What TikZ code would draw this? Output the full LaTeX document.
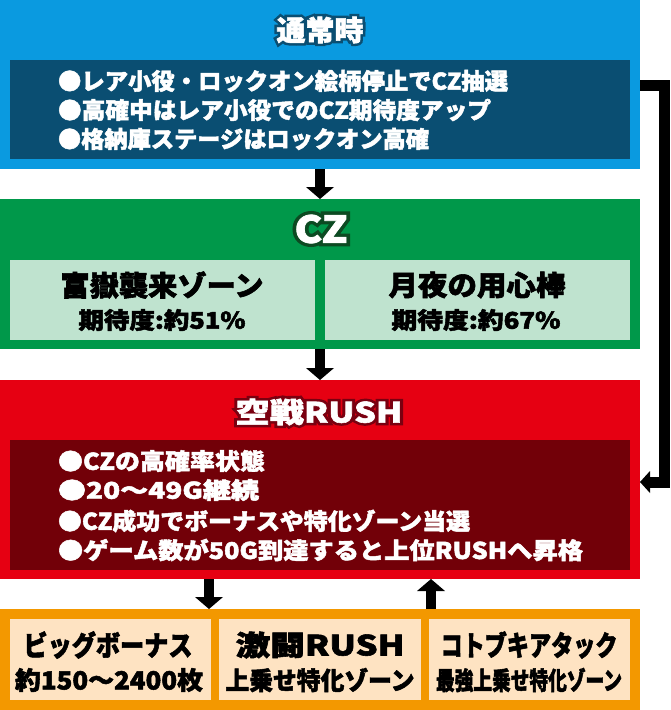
\documentclass[tikz,border=0pt]{standalone}
\usepackage{fontspec}
\setmainfont{Noto Sans CJK JP}[BoldFeatures={FakeBold=2}]
\newfontfamily\jpo{Noto Sans CJK JP}[UprightFeatures={FakeBold=20},BoldFeatures={FakeBold=20}]
\usepackage{graphicx}
\usetikzlibrary{arrows.meta,calc}
\definecolor{cblue}{HTML}{0A9AE0}
\definecolor{cdblue}{HTML}{0A4E72}
\definecolor{cgreen}{HTML}{00984A}
\definecolor{cdgreen}{HTML}{0C4A22}
\definecolor{clgreen}{HTML}{BFE3CF}
\definecolor{cred}{HTML}{E60012}
\definecolor{cdred}{HTML}{720008}
\definecolor{coutred}{HTML}{7A0010}
\definecolor{corange}{HTML}{F39800}
\definecolor{clorange}{HTML}{FEE3C2}
\newcommand\fitw[3]{\resizebox{#1pt}{\height}{\fontsize{#2}{#2}\selectfont\bfseries #3}}
\newcommand\fito[3]{\resizebox{#1pt}{\height}{\jpo\fontsize{#2}{#2}\selectfont\bfseries #3}}
% #1 name, #2 position, #3 outline colour, #4 width, #5 size, #6 text
\newcommand\outlined[6]{%
  \node[txt, text=#3] at (#2) {\fito{#4}{#5}{#6}};
  \node[txt, text=white] (#1) at (#2) {\fitw{#4}{#5}{#6}};}
\tikzset{
  box/.style={anchor=north west, inner sep=0pt, outer sep=0pt, draw=none},
  txt/.style={inner sep=0pt, outer sep=0pt},
  bigarrow/.style={line width=10pt, -{Triangle[width=28pt,length=12pt,line width=0pt]}},
  sidearrow/.style={line width=11pt, line join=miter, -{Triangle[width=22pt,length=10pt,line width=0pt]}},
}
\begin{document}
\begin{tikzpicture}[x=1pt,y=-1pt]
\useasboundingbox (0,0) rectangle (670,710);
% boxes
\node[box, fill=cblue, minimum width=640pt, minimum height=169pt] (normal) at (0,0) {};
\node[box, fill=cdblue, minimum width=620pt, minimum height=99pt] (normalin) at (10,60) {};
\node[box, fill=cgreen, minimum width=640pt, minimum height=150pt] (cz) at (0,199) {};
\node[box, fill=clgreen, minimum width=305pt, minimum height=80pt] (czl) at (10,260) {};
\node[box, fill=clgreen, minimum width=305pt, minimum height=80pt] (czr) at (325,260) {};
\node[box, fill=cred, minimum width=640pt, minimum height=199pt] (rush) at (0,380) {};
\node[box, fill=cdred, minimum width=620pt, minimum height=130pt] (rushin) at (10,440) {};
\node[box, fill=corange, minimum width=640pt, minimum height=101pt] (bottom) at (0,609) {};
\node[box, fill=clorange, minimum width=201pt, minimum height=81pt] (bb) at (10,619) {};
\node[box, fill=clorange, minimum width=202pt, minimum height=81pt] (gk) at (219,619) {};
\node[box, fill=clorange, minimum width=201pt, minimum height=81pt] (kt) at (429,619) {};
% titles
\coordinate (t1) at (320,30);
\coordinate (t2) at (321,229);
\coordinate (t3) at (319,412);
\outlined{title1}{t1}{cdblue}{87}{28}{通常時}
\outlined{title2}{t2}{cdgreen}{53}{37}{CZ}
\outlined{title3}{t3}{coutred}{167}{28}{空戦RUSH}
% blue text
\node[txt, text=white, anchor=west] (b1) at (58,81) {\fitw{450}{23}{●レア小役・ロックオン絵柄停止でCZ抽選}};
\node[txt, text=white, anchor=west] (b2) at (58,110) {\fitw{433}{23}{●高確中はレア小役でのCZ期待度アップ}};
\node[txt, text=white, anchor=west] (b3) at (58,139) {\fitw{371}{23}{●格納庫ステージはロックオン高確}};
% CZ text
\node[txt] (g1) at (162,285) {\fitw{203}{28}{富嶽襲来ゾーン}};
\node[txt] (g2) at (162,320) {\fitw{167}{23}{期待度:約51\%}};
\node[txt] (g3) at (477,285) {\fitw{177}{28}{月夜の用心棒}};
\node[txt] (g4) at (476,320) {\fitw{169}{23}{期待度:約67\%}};
% red text
\node[txt, text=white, anchor=west] (r1) at (58,461) {\fitw{207}{23}{●CZの高確率状態}};
\node[txt, text=white, anchor=west] (r2) at (58,490) {\fitw{201}{23}{●20～49G継続}};
\node[txt, text=white, anchor=west] (r3) at (58,521) {\fitw{412}{23}{●CZ成功でボーナスや特化ゾーン当選}};
\node[txt, text=white, anchor=west] (r4) at (58,550) {\fitw{525}{23}{●ゲーム数が50G到達すると上位RUSHへ昇格}};
% bottom text
\node[txt] (o1) at (108,645) {\fitw{169}{28}{ビッグボーナス}};
\node[txt] (o2) at (109,680) {\fitw{188}{25}{約150～2400枚}};
\node[txt] (o3) at (320,645) {\fitw{169}{28}{激闘RUSH}};
\node[txt] (o4) at (320,680) {\fitw{189}{25}{上乗せ特化ゾーン}};
\node[txt] (o5) at (529,645) {\fitw{177}{28}{コトブキアタック}};
\node[txt] (o6) at (529,680) {\fitw{186}{25}{最強上乗せ特化ゾーン}};
% arrows
\draw[bigarrow] (normal.south) -- (cz.north);
\draw[bigarrow] (cz.south) -- (rush.north);
\coordinate (d1) at (209,0);
\coordinate (u1) at (431,0);
\draw[bigarrow] (rush.south -| d1) -- (bottom.north -| d1);
\draw[bigarrow] (bottom.north -| u1) -- (rush.south -| u1);
\coordinate (k1) at (664,85);
\coordinate (k2) at (664,482);
\draw[sidearrow] (normal.east |- k1) -| (k2) -- (rush.east |- k2);
\end{tikzpicture}
\end{document}
